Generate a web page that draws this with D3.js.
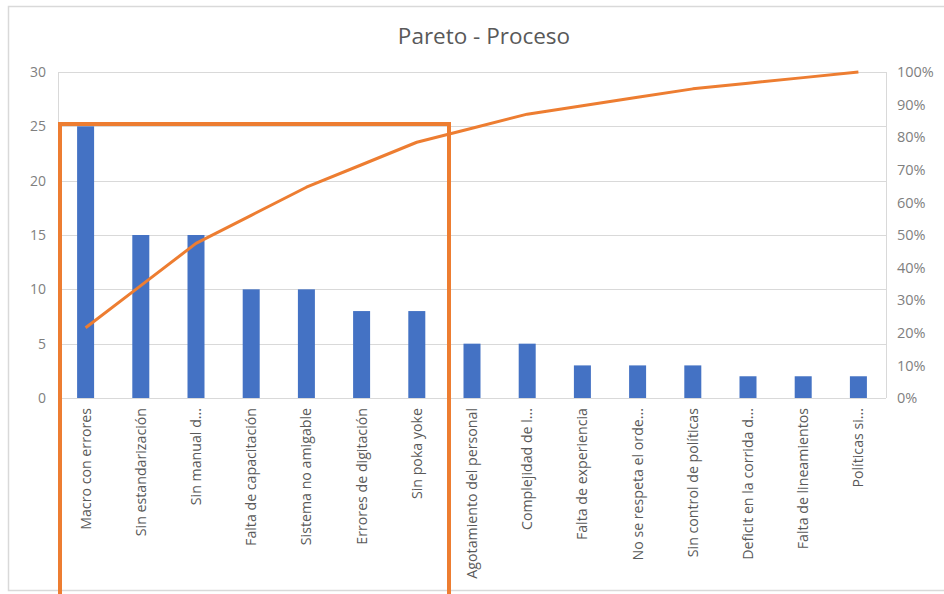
<!DOCTYPE html>
<html><head><meta charset="utf-8">
<script src="https://cdn.jsdelivr.net/npm/d3@7"></script>
<style>
html,body{margin:0;padding:0;background:#fff;}
svg{display:block;}
text{font-family:"Open Sans",sans-serif;}
</style></head>
<body><svg id="c" width="944" height="594"></svg>
<script>
const categories = ["Macro con errores","Sin estandarización","Sin manual d...","Falta de capacitación","Sistema no amigable","Errores de digitación","Sin poka yoke","Agotamiento del personal","Complejidad de l...","Falta de experiencia","No se respeta el orde...","Sin control de políticas","Deficit en la corrida d...","Falta de lineamientos","Políticas si..."];
const counts = [25,15,15,10,10,8,8,5,5,3,3,3,2,2,2];
const leftTicks = [0,5,10,15,20,25,30];
const rightTicks = [0,0.1,0.2,0.3,0.4,0.5,0.6,0.7,0.8,0.9,1.0];
const title = "Pareto - Proceso";

const total = d3.sum(counts);
let run = 0;
const cumulative = counts.map(v => (run += v) / total);

const svg = d3.select("#c");
const W = 944, H = 594;
const plot = {l:58, t:72, r:886, b:398};

// outer chart frame
svg.append("rect").attr("x",8.5).attr("y",6.5).attr("width",W).attr("height",584)
  .attr("fill","#fff").attr("stroke","#d9d9d9").attr("stroke-width",1.5);

const x = d3.scaleBand().domain(categories).range([plot.l, plot.r]);
const y = d3.scaleLinear().domain([0,30]).range([plot.b, plot.t]);
const y2 = d3.scaleLinear().domain([0,1]).range([plot.b, plot.t]);

// gridlines
svg.append("g").selectAll("line").data(leftTicks).join("line")
  .attr("x1",plot.l).attr("x2",plot.r)
  .attr("y1",d=>Math.round(y(d))+0.5).attr("y2",d=>Math.round(y(d))+0.5)
  .attr("stroke","#d9d9d9").attr("stroke-width",1);
// plot area side borders
svg.append("line").attr("x1",plot.l+0.5).attr("x2",plot.l+0.5).attr("y1",plot.t).attr("y2",plot.b).attr("stroke","#d9d9d9");
svg.append("line").attr("x1",plot.r+0.5).attr("x2",plot.r+0.5).attr("y1",plot.t).attr("y2",plot.b).attr("stroke","#d9d9d9");

// left axis
const la = svg.append("g").attr("transform",`translate(${plot.l-12},0)`)
  .call(d3.axisLeft(y).tickValues(leftTicks).tickSize(0).tickPadding(0));
la.select(".domain").remove();
la.selectAll("text").attr("fill","#7f7f7f").style("font-size","14px").style("font-family","'Open Sans',sans-serif");

// right axis
const ra = svg.append("g").attr("transform",`translate(${plot.r+11},0)`)
  .call(d3.axisRight(y2).tickValues(rightTicks).tickFormat(d3.format(".0%")).tickSize(0).tickPadding(0));
ra.select(".domain").remove();
ra.selectAll("text").attr("fill","#7f7f7f").style("font-size","14.5px").style("font-family","'Open Sans',sans-serif");

// bars
const bw = 17;
svg.append("g").selectAll("rect").data(counts).join("rect")
  .attr("x",(d,i)=>x(categories[i])+x.bandwidth()/2-bw/2)
  .attr("width",bw)
  .attr("y",d=>y(d)).attr("height",d=>y(0)-y(d))
  .attr("fill","#4472C4");

// cumulative line
const line = d3.line().x((d,i)=>x(categories[i])+x.bandwidth()/2).y(d=>y2(d));
svg.append("path").datum(cumulative).attr("d",line)
  .attr("fill","none").attr("stroke","#ED7D31").attr("stroke-width",3).attr("stroke-linejoin","round");

// x labels
svg.append("g").selectAll("text").data(categories).join("text")
  .attr("transform",d=>`translate(${x(d)+x.bandwidth()/2},${plot.b+10}) rotate(-90)`)
  .attr("text-anchor","end").attr("dy","0.35em")
  .attr("fill","#595959").style("font-size","14.2px")
  .text(d=>d);

// title
svg.append("text").attr("x",484).attr("y",44).attr("text-anchor","middle")
  .attr("fill","#595959").style("font-size","22.5px").text(title);

// highlight rectangle (orange)
svg.append("rect").attr("x",60).attr("y",124).attr("width",389).attr("height",520)
  .attr("fill","none").attr("stroke","#ED7D31").attr("stroke-width",4);
</script></body></html>
